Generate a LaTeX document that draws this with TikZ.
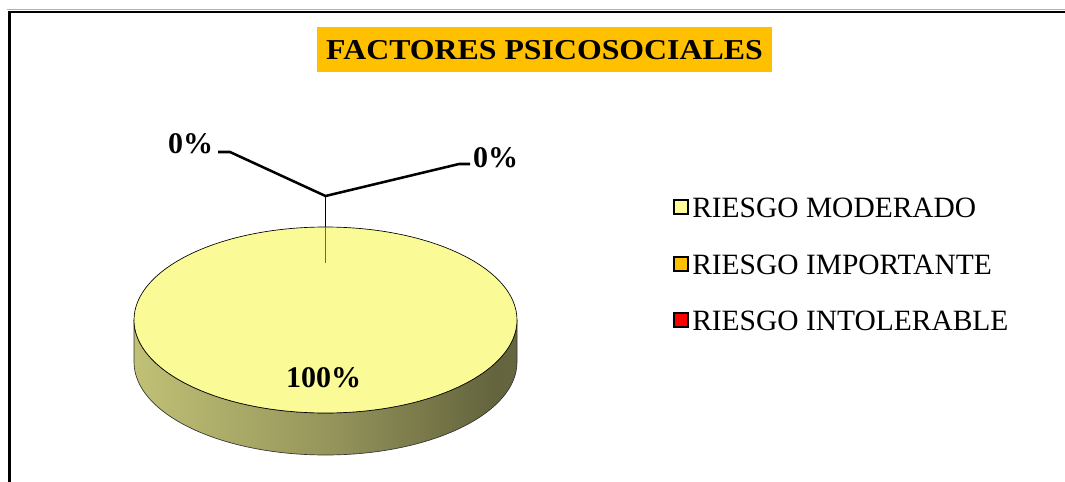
\documentclass[tikz,border=0pt]{standalone}
\usepackage{fontspec}
\setmainfont{Liberation Serif}
\definecolor{titleorange}{RGB}{255,192,0}
\definecolor{pietop}{RGB}{250,250,150}
\definecolor{legyellow}{RGB}{255,255,153}
\definecolor{legorange}{RGB}{255,192,0}
\definecolor{legred}{RGB}{255,0,0}
\definecolor{sideA}{RGB}{218,218,140}
\definecolor{sideB}{RGB}{192,192,118}
\definecolor{sideC}{RGB}{150,150,92}
\definecolor{sideD}{RGB}{100,100,62}
\definecolor{sideE}{RGB}{110,110,70}
\pgfdeclarehorizontalshading{pieside}{100bp}{
  color(0bp)=(sideA); color(25bp)=(sideB); color(50bp)=(sideC);
  color(72bp)=(sideD); color(100bp)=(sideE)}
\begin{document}
\begin{tikzpicture}[x=0.75pt,y=-0.75pt,
  pct/.style={font=\fontsize{22.5pt}{24pt}\selectfont\bfseries, inner sep=0pt},
  legtext/.style={font=\fontsize{22.1pt}{24pt}\selectfont, inner sep=0pt, anchor=west},
  legbox/.style={draw=black, line width=1.5pt, minimum width=10pt, minimum height=10pt, inner sep=0pt},
  leader/.style={line width=1.9pt, black}]
\useasboundingbox (0,0) rectangle (1065,482);
% frame
\draw[gray!60, line width=0.6pt] (7,9.5) -- (1065,9.5);
\draw[black, line width=2.2pt] (9.5,482) -- (9.5,12) -- (1065,12);
% title
\node[fill=titleorange, minimum width=341pt, minimum height=33.5pt, inner sep=0pt] (title) at (544.5,49.5) {};
\node[font=\fontsize{21.6pt}{24pt}\selectfont\bfseries, inner sep=0pt, xscale=1.105] (titletext) at (544.5,50.5) {FACTORES PSICOSOCIALES};
% pie side
\shade[shading=pieside, draw=black!80, line width=0.5pt]
  (134,320) -- (134,362) arc[start angle=180, end angle=0, x radius=191.5, y radius=93]
  -- (517,320) arc[start angle=0, end angle=180, x radius=191.5, y radius=93] -- cycle;
% pie top
\fill[pietop, draw=black, line width=0.5pt] (325.5,320) ellipse[x radius=191.5, y radius=93];
\coordinate (ptop) at (325.5,227);
\coordinate (pin) at (325.5,263);
\coordinate (hub) at (325.5,196);
\draw[gray!80!black, line width=0.7pt] (ptop) -- (pin);
\draw[black, line width=0.8pt] (hub) -- (ptop);
% leaders
\coordinate (l1) at (230,152);
\coordinate (l0) at (218,152);
\coordinate (r1) at (459,164);
\coordinate (r0) at (470,164);
\draw[leader] (l0) -- (l1) -- (hub) -- (r1) -- (r0);
\node[pct] (lab1) at (190.5,144) {0\%};
\node[pct] (lab2) at (495.5,158) {0\%};
\node[pct] (lab3) at (323.5,378) {100\%};
% legend
\node[legbox, fill=legyellow] (k1) at (681,207) {};
\node[legbox, fill=legorange] (k2) at (681,264) {};
\node[legbox, fill=legred] (k3) at (681,320) {};
\node[legtext] (t1) at (692,208) {RIESGO MODERADO};
\node[legtext] (t2) at (692,265) {RIESGO IMPORTANTE};
\node[legtext] (t3) at (692,321) {RIESGO INTOLERABLE};
\end{tikzpicture}
\end{document}
